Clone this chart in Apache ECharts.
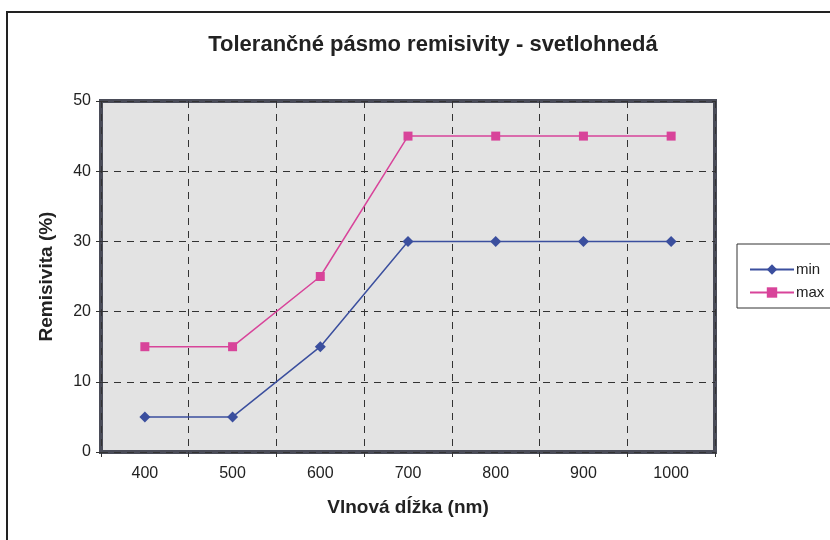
<!DOCTYPE html>
<html>
<head>
<meta charset="utf-8">
<script src="https://cdn.jsdelivr.net/npm/echarts@6/dist/echarts.min.js"></script>
<style>
  html, body { margin: 0; padding: 0; background: #fff; }
  #main { width: 830px; height: 540px; }
</style>
</head>
<body>
<div id="main"></div>
<script>
// data
const categories = ['400', '500', '600', '700', '800', '900', '1000']
const minValues = [5, 5, 15, 30, 30, 30, 30]
const maxValues = [15, 15, 25, 45, 45, 45, 45]

const chart = echarts.init(document.getElementById('main'))
const font = 'Liberation Sans, Arial, sans-serif'

const option = {
  backgroundColor: '#fff',
  animation: false,
  title: {
    text: 'Tolerančné pásmo remisivity - svetlohnedá',
    left: 428,
    textAlign: 'center',
    top: 29,
    textStyle: { fontFamily: font, fontSize: 22, fontWeight: 'bold', color: '#222' }
  },
  graphic: [
    // outer chart frame
    {
      type: 'rect',
      shape: { x: 7, y: 12, width: 900, height: 600 },
      style: { fill: 'none', stroke: '#222', lineWidth: 2 },
      z: -1
    },
    // legend box
    {
      type: 'rect',
      shape: { x: 737, y: 244, width: 120, height: 64 },
      style: { fill: '#fff', stroke: '#333', lineWidth: 1 },
      z: 1
    }
  ],
  legend: {
    orient: 'vertical',
    left: 744,
    top: 257,
    itemGap: 8,
    itemWidth: 44,
    itemHeight: 13,
    z: 5,
    textStyle: { fontFamily: font, fontSize: 15, color: '#222', padding: [0, 0, 0, -3] },
    data: ['min', 'max']
  },
  grid: {
    left: 101,
    top: 101,
    width: 614,
    height: 351,
    show: true,
    backgroundColor: '#e3e3e3',
    borderColor: '#4a4c58',
    borderWidth: 4
  },
  xAxis: {
    type: 'category',
    data: categories,
    boundaryGap: true,
    name: 'Vlnová dĺžka (nm)',
    nameLocation: 'middle',
    nameGap: 46,
    nameTextStyle: { fontFamily: font, fontSize: 19, fontWeight: 'bold', color: '#222' },
    axisLine: { show: false },
    axisTick: { show: true, length: 5, lineStyle: { color: '#333' } },
    axisLabel: { fontFamily: font, fontSize: 16, color: '#222', margin: 14 },
    splitLine: { show: true, lineStyle: { color: '#333', type: [7, 6], width: 1 } }
  },
  yAxis: {
    type: 'value',
    min: 0,
    max: 50,
    interval: 10,
    name: 'Remisivita (%)',
    nameLocation: 'middle',
    nameGap: 45,
    nameTextStyle: { fontFamily: font, fontSize: 19, fontWeight: 'bold', color: '#222' },
    axisLine: { show: false },
    axisTick: { show: true, length: 5, lineStyle: { color: '#333' } },
    axisLabel: { fontFamily: font, fontSize: 16, color: '#222', margin: 10 },
    splitLine: { show: true, lineStyle: { color: '#333', type: [7, 6], width: 1 } }
  },
  series: [
    {
      name: 'min',
      type: 'line',
      data: minValues,
      symbol: 'diamond',
      symbolSize: 11,
      lineStyle: { color: '#3b4f9e', width: 1.5 },
      itemStyle: { color: '#3b4f9e' },
      z: 3
    },
    {
      name: 'max',
      type: 'line',
      data: maxValues,
      symbol: 'rect',
      symbolSize: 9,
      lineStyle: { color: '#d8449a', width: 1.5 },
      itemStyle: { color: '#d8449a' },
      z: 3
    }
  ]
}

chart.setOption(option)
</script>
</body>
</html>
